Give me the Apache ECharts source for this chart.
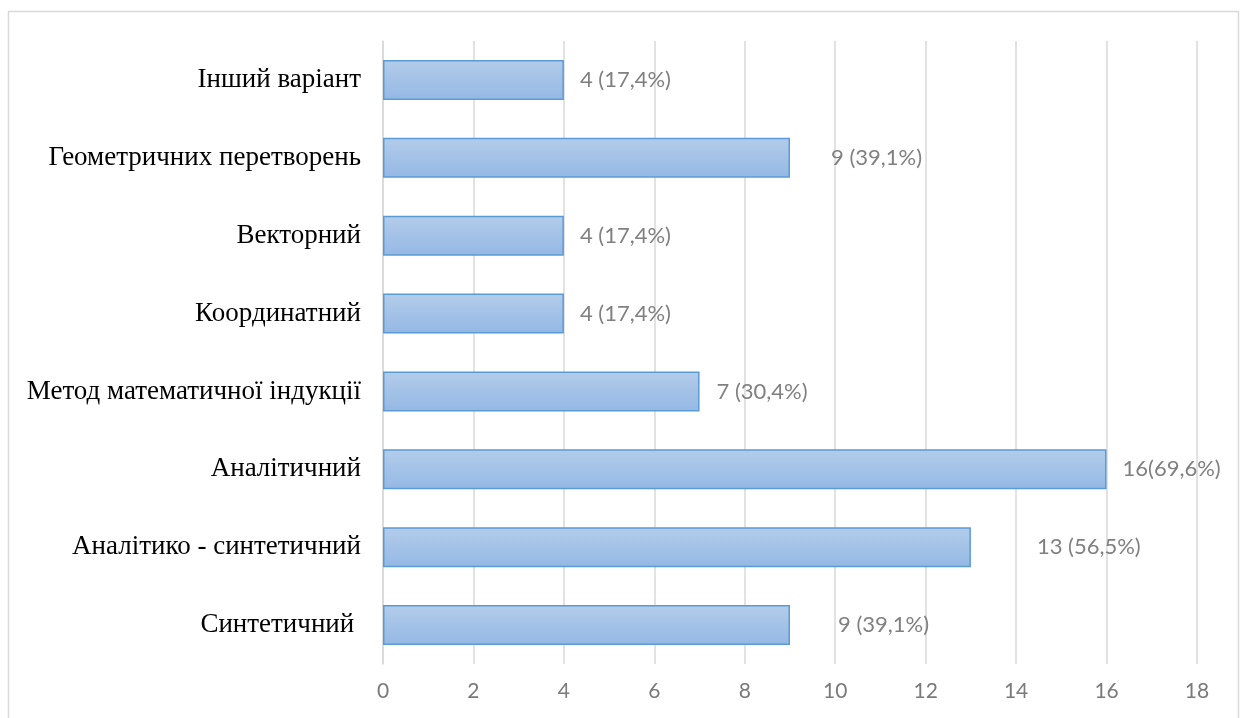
<!DOCTYPE html>
<html>
<head>
<meta charset="utf-8">
<script src="https://cdn.jsdelivr.net/npm/echarts@6/dist/echarts.min.js"></script>
<style>
  html, body { margin: 0; padding: 0; background: #fff; }
  #chart { width: 1241px; height: 718px; }
</style>
</head>
<body>
<div id="chart"></div>
<script>
// bottom to top, as the axis draws them
const categories = [
  "Синтетичний ",
  "Аналітико - синтетичний",
  "Аналітичний",
  "Метод математичної індукції",
  "Координатний",
  "Векторний",
  "Геометричних перетворень",
  "Інший варіант",
];
const counts = [9, 13, 16, 7, 4, 4, 9, 4];
const labels = [
  "9 (39,1%)",
  "13 (56,5%)",
  "16(69,6%)",
  "7 (30,4%)",
  "4 (17,4%)",
  "4 (17,4%)",
  "9 (39,1%)",
  "4 (17,4%)",
];
const xTicks = [0, 18, 2]; // min, max, step

// labels were nudged by hand in the original
const labelGap = [48, 66, 16, 17, 16, 16, 41, 16];

const chart = echarts.init(document.getElementById("chart"));

const barFill = new echarts.graphic.LinearGradient(0, 0, 0, 1, [
  { offset: 0, color: "#b3ccea" },
  { offset: 1, color: "#94b8e4" },
]);

chart.setOption({
  animation: false,
  grid: { left: 383, right: 44, top: 41, bottom: 54, containLabel: false },
  graphic: [
    {
      type: "rect",
      shape: { x: 8.5, y: 11.5, width: 1230, height: 720 },
      style: { fill: "none", stroke: "#d9d9d9", lineWidth: 1.5 },
      silent: true,
    },
  ],
  xAxis: {
    type: "value",
    min: xTicks[0],
    max: xTicks[1],
    interval: xTicks[2],
    axisLine: { show: false },
    axisTick: { show: false },
    splitLine: { lineStyle: { color: "#d9d9d9", width: 1.5 } },
    axisLabel: {
      color: "#7a7a7a",
      fontFamily: "Lato",
      fontSize: 21,
      margin: 17,
    },
  },
  yAxis: {
    type: "category",
    data: categories,
    axisLine: { lineStyle: { color: "#d9d9d9", width: 1.5 } },
    axisTick: { show: false },
    axisLabel: {
      color: "#000",
      fontFamily: "Liberation Serif",
      fontSize: 27,
      margin: 22,
    },
  },
  series: [
    {
      type: "bar",
      barWidth: 40,
      data: counts.map((v, i) => ({
        value: v,
        label: { distance: labelGap[i] },
      })),
      itemStyle: {
        color: barFill,
        borderColor: "#5b9bd5",
        borderWidth: 1.5,
      },
      label: {
        show: true,
        position: "right",
        color: "#808080",
        fontFamily: "Lato",
        fontSize: 22,
        formatter: (p) => labels[p.dataIndex],
      },
    },
  ],
});
</script>
</body>
</html>
